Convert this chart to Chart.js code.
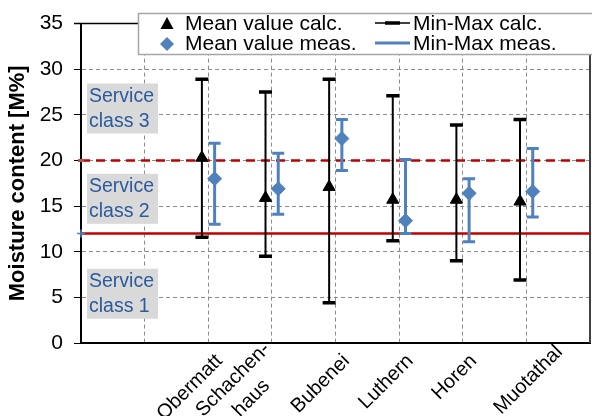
<!DOCTYPE html>
<html lang="en">
<head>
<meta charset="UTF-8">
<script src="https://cdn.jsdelivr.net/npm/chart.js"></script>
<title>Moisture content</title>
<style>
  html, body { margin: 0; padding: 0; background: #fff; }
</style>
</head>
<body>
<canvas id="grafico" width="592" height="416"></canvas>
<script>
// categorias (posicion en el eje = indice + 2, los dos primeros huecos quedan vacios)
const categorias = ['Obermatt', ['Schachen-', 'haus'], 'Bubenei', 'Luthern', 'Horen', 'Muotathal'];

// valores calculados
const calcMedia = [20.3, 15.9, 17.1, 15.7, 15.7, 15.5];
const calcMin   = [11.6,  9.5,  4.4, 11.2,  9.0,  6.9];
const calcMax   = [28.9, 27.5, 28.9, 27.1, 23.9, 24.5];

// valores medidos
const medMedia = [18.0, 16.9, 22.4, 13.4, 16.4, 16.6];
const medMin   = [13.0, 14.1, 18.9, 12.0, 11.1, 13.8];
const medMax   = [21.9, 20.8, 24.5, 20.1, 18.0, 21.3];

// limites de clases de servicio
const limiteClase1 = 12;
const limiteClase2 = 20;

const ticksY = [0, 5, 10, 15, 20, 25, 30, 35];
const clases = [
  { texto: ['Service', 'class 3'], y: 25.7 },
  { texto: ['Service', 'class 2'], y: 15.8 },
  { texto: ['Service', 'class 1'], y: 5.4 }
];
const leyenda = ['Mean value calc.', 'Mean value meas.', 'Min-Max calc.', 'Min-Max meas.'];

const AZUL = '#4F81BD';
const ROJO = '#C00000';
const FUENTE = "'Liberation Sans', Arial, sans-serif";
const desfase = 0.1;

Chart.defaults.font.family = FUENTE;
Chart.defaults.color = '#000';

function dibujarBarras(ctx, sx, sy, off, mins, maxs, color, ancho, cap, grosorCap) {
  ctx.save();
  ctx.strokeStyle = color;
  for (let i = 0; i < mins.length; i++) {
    const x = sx.getPixelForValue(i + 2 + off);
    const y1 = sy.getPixelForValue(mins[i]);
    const y2 = sy.getPixelForValue(maxs[i]);
    ctx.lineWidth = ancho;
    ctx.beginPath();
    ctx.moveTo(x, y1); ctx.lineTo(x, y2);
    ctx.stroke();
    ctx.lineWidth = grosorCap;
    ctx.beginPath();
    ctx.moveTo(x - cap / 2, y1); ctx.lineTo(x + cap / 2, y1);
    ctx.moveTo(x - cap / 2, y2); ctx.lineTo(x + cap / 2, y2);
    ctx.stroke();
  }
  ctx.restore();
}

const barrasError = {
  id: 'barrasError',
  beforeDatasetDraw(chart, args) {
    if (args.index !== 0) return;
    const { ctx, scales } = chart;
    dibujarBarras(ctx, scales.x, scales.y, -desfase, calcMin, calcMax, '#000', 2, 13, 3.5);
    dibujarBarras(ctx, scales.x, scales.y, desfase, medMin, medMax, AZUL, 3, 12, 3);
  }
};

// etiquetas del eje x giradas 45 grados, como en Excel (lineas centradas)
const ajusteEtiquetas = { 1: [-16, -12], 5: [22, -9] };
const etiquetasX = {
  id: 'etiquetasX',
  afterDraw(chart) {
    const { ctx, scales, chartArea: a } = chart;
    ctx.save();
    ctx.font = '20px ' + FUENTE;
    ctx.fillStyle = '#000';
    ctx.textAlign = 'right';
    ctx.textBaseline = 'middle';
    categorias.forEach((c, i) => {
      const lineas = Array.isArray(c) ? c : [c];
      const aj = ajusteEtiquetas[i] || [0, 0];
      const x = scales.x.getPixelForValue(i + 2) + 11 + aj[0];
      const y = a.bottom + 15 + aj[1];
      const anchos = lineas.map(l => ctx.measureText(l).width);
      const maxAncho = Math.max(...anchos);
      ctx.save();
      ctx.translate(x, y);
      ctx.rotate(-Math.PI / 4);
      lineas.forEach((l, k) => ctx.fillText(l, -(maxAncho - anchos[k]) / 2, k * 26));
      ctx.restore();
    });
    ctx.restore();
  }
};

const marco = {
  id: 'marco',
  beforeDatasetsDraw(chart) {
    const { ctx, chartArea: a, scales } = chart;
    ctx.save();
    // borde superior y derecho
    ctx.strokeStyle = '#000';
    ctx.lineWidth = 1.5;
    ctx.beginPath();
    ctx.moveTo(a.left - 7, a.top); ctx.lineTo(a.right, a.top);
    ctx.stroke();
    ctx.strokeStyle = '#404040';
    ctx.lineWidth = 2;
    ctx.beginPath();
    ctx.moveTo(a.right, a.top); ctx.lineTo(a.right, a.bottom);
    ctx.stroke();
    // cuadros de clases de servicio
    ctx.font = '19.5px ' + FUENTE;
    ctx.textBaseline = 'middle';
    ctx.textAlign = 'left';
    clases.forEach(c => {
      const yc = scales.y.getPixelForValue(c.y);
      ctx.fillStyle = '#D9D9D9';
      ctx.fillRect(a.left + 6, yc - 25, 71, 50);
      ctx.fillStyle = '#2C5A9C';
      ctx.fillText(c.texto[0], a.left + 8, yc - 12);
      ctx.fillText(c.texto[1], a.left + 8, yc + 13);
    });
    ctx.restore();
  }
};

const cuadroLeyenda = {
  id: 'cuadroLeyenda',
  afterDraw(chart) {
    const ctx = chart.ctx;
    ctx.save();
    ctx.fillStyle = '#fff';
    ctx.fillRect(138, 13, 470, 42);
    ctx.strokeStyle = '#A6A6A6';
    ctx.lineWidth = 1.5;
    ctx.strokeRect(138.5, 13.5, 470, 41);
    const f1 = 24, f2 = 44;
    // triangulo
    ctx.fillStyle = '#000';
    ctx.beginPath();
    ctx.moveTo(167, f1 - 7); ctx.lineTo(173.5, f1 + 5); ctx.lineTo(160.5, f1 + 5);
    ctx.closePath(); ctx.fill();
    // rombo
    ctx.fillStyle = AZUL;
    ctx.beginPath();
    ctx.moveTo(167, f2 - 7); ctx.lineTo(174, f2); ctx.lineTo(167, f2 + 7); ctx.lineTo(160, f2);
    ctx.closePath(); ctx.fill();
    // lineas min-max
    ctx.strokeStyle = '#000';
    ctx.lineWidth = 1.5;
    ctx.beginPath(); ctx.moveTo(375, f1 - 1); ctx.lineTo(410, f1 - 1); ctx.stroke();
    ctx.lineWidth = 3.5;
    ctx.beginPath(); ctx.moveTo(385, f1 - 1); ctx.lineTo(400, f1 - 1); ctx.stroke();
    ctx.strokeStyle = AZUL;
    ctx.lineWidth = 3;
    ctx.beginPath(); ctx.moveTo(375, f2 - 1); ctx.lineTo(410, f2 - 1); ctx.stroke();
    // textos
    ctx.fillStyle = '#000';
    ctx.font = '21px ' + FUENTE;
    ctx.textBaseline = 'middle';
    ctx.fillText(leyenda[0], 185, f1);
    ctx.fillText(leyenda[1], 185, f2);
    ctx.fillText(leyenda[2], 413, f1);
    ctx.fillText(leyenda[3], 413, f2);
    ctx.restore();
  }
};

new Chart(document.getElementById('grafico'), {
  type: 'scatter',
  data: {
    datasets: [
      {
        label: leyenda[0],
        data: calcMedia.map((v, i) => ({ x: i + 2 - desfase, y: v })),
        pointStyle: 'triangle',
        pointRadius: 7,
        backgroundColor: '#000',
        borderColor: '#000',
        order: 2
      },
      {
        label: leyenda[1],
        data: medMedia.map((v, i) => ({ x: i + 2 + desfase, y: v })),
        pointStyle: 'rectRot',
        pointRadius: 7,
        backgroundColor: AZUL,
        borderColor: AZUL,
        order: 1
      },
      {
        label: 'limite 1',
        data: [{ x: 0, y: limiteClase1 }, { x: 8, y: limiteClase1 }],
        showLine: true,
        borderColor: ROJO,
        borderWidth: 2.5,
        pointStyle: 'cross',
        pointRadius: [4, 0],
        pointBorderColor: AZUL,
        pointBorderWidth: 1.5,
        clip: false,
        order: 3
      },
      {
        label: 'limite 2',
        data: [{ x: 0, y: limiteClase2 }, { x: 8, y: limiteClase2 }],
        showLine: true,
        borderColor: ROJO,
        borderWidth: 2.5,
        borderDash: [9, 6],
        pointStyle: 'line',
        pointRadius: [3, 0],
        pointBorderColor: '#C0504D',
        pointBorderWidth: 3,
        clip: false,
        order: 3
      }
    ]
  },
  options: {
    responsive: false,
    animation: false,
    devicePixelRatio: 1,
    layout: { autoPadding: false, padding: { top: 20, right: 2, left: 0, bottom: 0 } },
    plugins: {
      legend: { display: false },
      tooltip: { enabled: false }
    },
    scales: {
      x: {
        type: 'linear',
        min: 0,
        max: 8,
        afterFit: s => { s.height = 73; s.paddingLeft = 0; s.paddingRight = 0; },
        afterBuildTicks: s => { s.ticks = [0, 1, 2, 3, 4, 5, 6, 7, 8].map(v => ({ value: v })); },
        ticks: { display: false },
        grid: {
          drawTicks: false,
          color: c => (c.tick && (c.tick.value === 0 || c.tick.value === 8)) ? 'rgba(0,0,0,0)' : '#8C8C8C',
          lineWidth: 1
        },
        border: { color: '#000', width: 2, dash: [4, 3] }
      },
      y: {
        min: 0,
        max: 35,
        afterFit: s => { s.width = 81; },
        afterBuildTicks: s => { s.ticks = ticksY.map(v => ({ value: v })); },
        ticks: { font: { size: 21 }, color: '#000', padding: 11 },
        grid: {
          tickLength: 7,
          tickColor: '#000',
          color: c => (c.tick && (c.tick.value === 0 || c.tick.value === 35)) ? 'rgba(0,0,0,0)' : '#8C8C8C',
          lineWidth: 1
        },
        border: { color: '#000', width: 2, dash: [4, 3] },
        title: {
          display: true,
          text: 'Moisture content [M%]',
          font: { size: 22, weight: 'bold' },
          color: '#000',
          padding: { top: 5, bottom: 0 }
        }
      }
    }
  },
  plugins: [marco, barrasError, etiquetasX, cuadroLeyenda]
});
</script>
</body>
</html>
